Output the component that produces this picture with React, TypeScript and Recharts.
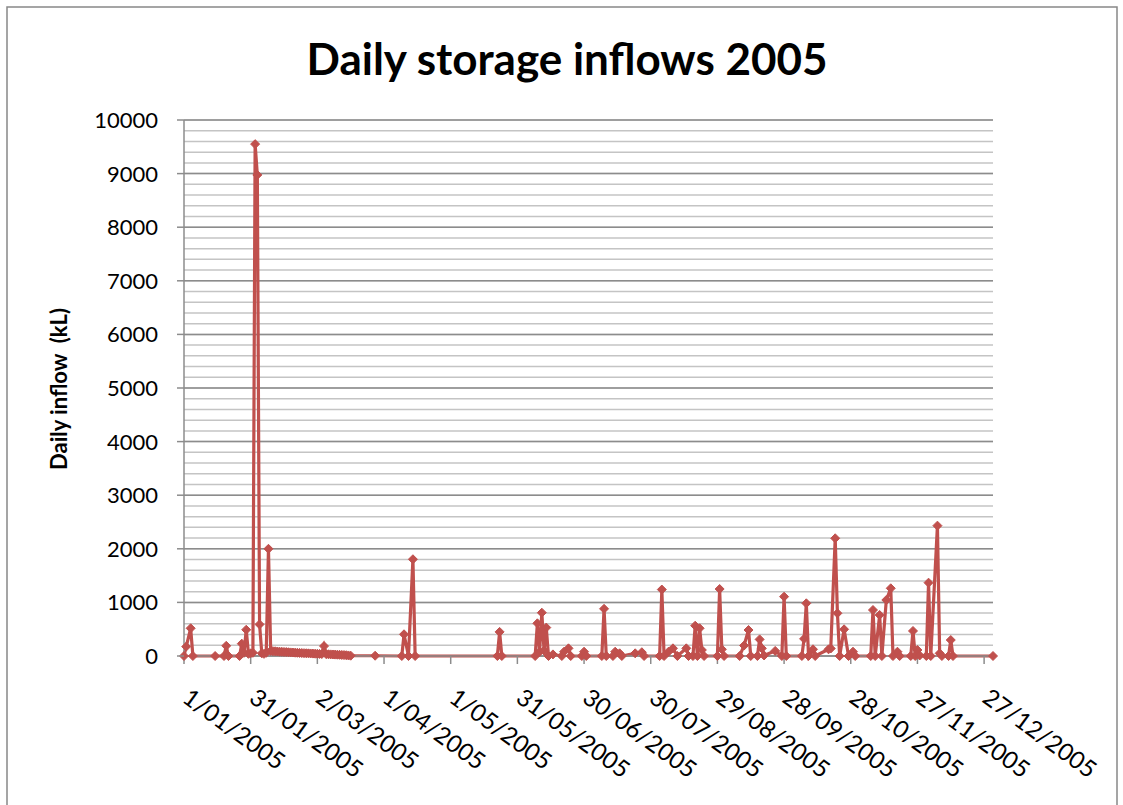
import React from "react";
import { LineChart, Line, XAxis, YAxis, CartesianGrid } from "recharts";

// day of year (0 = 1 Jan 2005) for each reading, and the inflow on that day (kL)
const days = [
  0, 1, 3, 4, 14, 18, 19, 20, 25, 26, 27, 28, 29, 30, 31, 32, 33, 34, 35, 36, 37, 38,
  39, 40, 41, 42, 43, 44, 45, 46, 47, 48, 49, 50, 51, 52, 53, 54, 55, 56, 57, 58, 59,
  60, 61, 62, 63, 64, 65, 66, 67, 68, 69, 70, 71, 72, 73, 74, 75,
  86, 98, 99, 101, 103, 104, 141, 142, 143,
  158, 159, 160, 161, 162, 163, 164, 166, 170, 171, 173, 174, 179, 180, 181,
  188, 189, 190, 193, 194, 196, 197, 203, 206, 207,
  214, 215, 216, 218, 220, 222, 226, 227, 229, 230, 231, 232, 233, 234,
  240, 241, 242, 243, 250, 252, 254, 255, 258, 259, 260, 261, 266, 269, 270, 271,
  278, 279, 280, 281, 283, 284, 290, 291, 293, 294, 295, 297, 299, 301, 302,
  309, 310, 311, 313, 314, 316, 318, 319, 321, 322, 327, 328, 329, 330, 331,
  334, 335, 336, 339, 340, 341, 344, 345, 346, 364,
];
const inflows = [
  0, 175, 517, 0, 0, 0, 190, 0, 0, 230, 60, 490, 40, 50, 60, 9550, 8975, 590, 50, 40, 60, 2000,
  95, 90, 88, 84, 81, 78, 75, 73, 70, 67, 65, 62, 60, 58, 55, 53, 51, 49, 47, 45, 43,
  41, 39, 37, 185, 34, 32, 30, 28, 26, 24, 22, 20, 17, 14, 10, 6,
  5, 0, 405, 0, 1805, 0, 0, 450, 0,
  0, 610, 80, 808, 100, 530, 0, 30, 0, 80, 143, 0, 0, 80, 0,
  0, 880, 0, 0, 80, 50, 0, 50, 70, 0,
  0, 1240, 0, 80, 143, 0, 143, 0, 0, 565, 0, 517, 112, 0,
  0, 1250, 125, 0, 0, 195, 485, 0, 0, 310, 143, 10, 95, 0, 1107, 0,
  0, 320, 983, 0, 125, 0, 125, 140, 2196, 797, 0, 498, 0, 80, 0,
  0, 858, 0, 765, 0, 1045, 1263, 0, 80, 0, 0, 467, 0, 112, 10,
  0, 1368, 0, 2432, 50, 0, 0, 298, 0, 0,
];

const tickDays = [0, 30, 60, 90, 120, 150, 180, 210, 240, 270, 300, 330, 360];
const tickLabels = [
  "1/01/2005", "31/01/2005", "2/03/2005", "1/04/2005", "1/05/2005", "31/05/2005",
  "30/06/2005", "30/07/2005", "29/08/2005", "28/09/2005", "28/10/2005", "27/11/2005",
  "27/12/2005",
];
const majorTicks = [0, 1000, 2000, 3000, 4000, 5000, 6000, 7000, 8000, 9000, 10000];
// minor gridlines every 200
const gridTicks = Array.from({ length: 51 }, (_, i) => i * 200);

const data = days.map((d, i) => ({ day: d, inflow: inflows[i] }));

const RED = "#C0504D";
const AXIS = "#8C8C8C";
const FONT = "Lato, 'Open Sans', sans-serif";

const DateTick = (props: any) => {
  const { x, y, payload } = props;
  const label = tickLabels[tickDays.indexOf(payload.value)];
  const tx = x - 3;
  const ty = y + 37;
  return (
    <text x={tx} y={ty} transform={`rotate(36 ${tx} ${ty})`} textAnchor="start" fontSize={24} fontFamily={FONT} fill="#000">
      {label}
    </text>
  );
};

// only the thousands get a label and a tick mark
const ValueTick = (props: any) => {
  const { x, y, payload } = props;
  if (payload.value % 1000 !== 0) return <g />;
  const axisX = x + 19 + 7;
  return (
    <g>
      <line x1={axisX - 7} x2={axisX} y1={y} y2={y} stroke={AXIS} strokeWidth={1.5} />
      <text x={x} y={y} dy="0.36em" textAnchor="end" fontSize={22} fontFamily={FONT} fill="#000">
        {payload.value}
      </text>
    </g>
  );
};

const Diamond = (props: any) => {
  const { cx, cy, index } = props;
  if (cx == null || cy == null) return <g key={`d-${index}`} />;
  const r = 4.5;
  return (
    <path
      key={`d-${index}`}
      d={`M${cx},${cy - r}L${cx + r},${cy}L${cx},${cy + r}L${cx - r},${cy}Z`}
      fill={RED}
      stroke={RED}
      strokeWidth={1}
    />
  );
};

const majorLines = ({ yAxis, offset }: any) =>
  majorTicks.map((v) =>
    yAxis && typeof yAxis.scale === "function" ? yAxis.scale(v) : offset.top + offset.height * (1 - v / 10000)
  );

export default function App() {
  return (
    <div style={{ position: "relative", width: 1123, height: 805, background: "#fff", overflow: "hidden" }}>
      <style>{"body{margin:0}"}</style>
      <LineChart width={1123} height={805} data={data} margin={{ top: 120, right: 130, bottom: 29, left: 0 }}>
        <CartesianGrid vertical={false} stroke="#C4C4C4" strokeWidth={1.5} />
        <CartesianGrid vertical={false} stroke={AXIS} strokeWidth={1.5} horizontalCoordinatesGenerator={majorLines} />
        <XAxis
          dataKey="day"
          type="number"
          domain={[0, 364]}
          ticks={tickDays}
          interval={0}
          height={120}
          tickSize={8}
          tickMargin={0}
          stroke={AXIS}
          tickLine={{ stroke: AXIS, strokeWidth: 1.5 }}
          axisLine={{ stroke: AXIS, strokeWidth: 1.5 }}
          tick={<DateTick />}
        />
        <YAxis
          domain={[0, 10000]}
          ticks={gridTicks}
          interval={0}
          width={184}
          tickSize={7}
          tickMargin={19}
          axisLine={{ stroke: AXIS, strokeWidth: 1.5 }}
          tickLine={false}
          tick={<ValueTick />}
        />
        <Line
          type="linear"
          dataKey="inflow"
          stroke={RED}
          strokeWidth={3.2}
          dot={<Diamond />}
          activeDot={false}
          isAnimationActive={false}
        />
      </LineChart>
      <svg width={1123} height={805} style={{ position: "absolute", left: 0, top: 0, pointerEvents: "none" }}>
        <path d="M7,805 L7,7 L1117,7 L1117,805" fill="none" stroke="#888888" strokeWidth={1.5} />
        <text x={567} y={75} textAnchor="middle" fontSize={44} fontWeight="bold" fontFamily={FONT} fill="#000">
          Daily storage inflows 2005
        </text>
        <text
          transform="translate(67,389) rotate(-90)"
          textAnchor="middle"
          fontSize={22}
          fontWeight="bold"
          fontFamily={FONT}
          fill="#000"
          style={{ whiteSpace: "pre" }}
        >
          Daily inflow  (kL)
        </text>
      </svg>
    </div>
  );
}
